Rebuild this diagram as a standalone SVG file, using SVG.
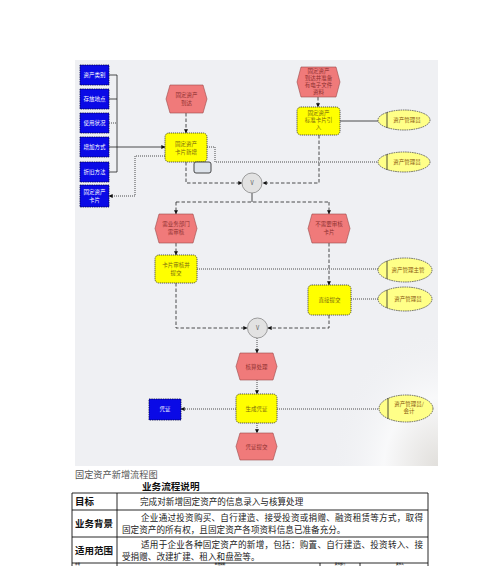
<svg xmlns="http://www.w3.org/2000/svg" width="500" height="566" viewBox="0 0 500 566">
<defs>
<marker id="ah" viewBox="0 0 6 6" refX="5.5" refY="3" markerWidth="4" markerHeight="4" orient="auto" markerUnits="userSpaceOnUse"><path d="M0,0L6,3L0,6z" fill="#111"/></marker>
<radialGradient id="sh" cx="1" cy="1" r="1"><stop offset="0" stop-color="#d8d4cc"/><stop offset="0.5" stop-color="#ffffff"/><stop offset="1" stop-color="#eff0f3" stop-opacity="0"/></radialGradient>
<style>
.blue{fill:#0a0ae6;stroke:#00004a;stroke-width:.8;stroke-dasharray:1.5 .8}
.red{fill:#f07a7a;stroke:#9a4a4a;stroke-width:.6}
.yel{fill:#ffff00;stroke:#444;stroke-width:.9;stroke-dasharray:1.2 .8}
.ell{fill:#ffff88;stroke:#444;stroke-width:.8;stroke-dasharray:1.5 .8}
.xor{fill:#e2e2e2;stroke:#888;stroke-width:.8}
.grey{fill:#dde3ea;stroke:#333;stroke-width:.9}
.c{fill:none;stroke:#222;stroke-width:.8}
.d{stroke-dasharray:3.5 2}
.o{stroke-dasharray:1 1}
text{font-family:"Noto Sans CJK SC",sans-serif}
.t{font-size:5.5px;text-anchor:middle}
.tb{fill:#fff}
.tr{fill:#8e3030}
.ty{fill:#7a6a10}
.te{fill:#8a5a10}
.tab{font-size:8.6px;fill:#222}
.hd{font-size:9.5px;font-weight:bold;fill:#111}
.hs{font-size:2.6px;font-weight:bold;fill:#111}
</style>
</defs>
<rect x="75" y="60" width="363" height="406" fill="#eff0f3"/>
<rect x="330" y="330" width="108" height="136" fill="url(#sh)" opacity="0.6"/>
<g id="connectors">
<path class="c" d="M109,75H117M109,99H117M109,147H117M109,172H117M117,75V172"/>
<path class="c o" d="M109,123H117"/>
<path class="c" d="M117,147H165" marker-end="url(#ah)"/>
<path class="c o" d="M165,156H135V196H109" marker-end="url(#ah)"/>
<path class="c d" d="M186,113V133" marker-end="url(#ah)"/>
<path class="c o" d="M207,147H215V162H378"/>
<path class="c d" d="M186,162V183H242" marker-end="url(#ah)"/>
<path class="c d" d="M319,135V183H263" marker-end="url(#ah)"/>
<path class="c d" d="M318,97V107" marker-end="url(#ah)"/>
<path class="c" d="M340,121H378"/>
<path class="c" d="M252,193V202"/>
<path class="c d" d="M176,202H329"/>
<path class="c d" d="M176,202V214" marker-end="url(#ah)"/>
<path class="c d" d="M329,202V214" marker-end="url(#ah)"/>
<path class="c d" d="M176,243V255" marker-end="url(#ah)"/>
<path class="c d" d="M329,243V285" marker-end="url(#ah)"/>
<path class="c o" d="M197,269H378"/>
<path class="c o" d="M351,299H378"/>
<path class="c d" d="M176,283V328H247" marker-end="url(#ah)"/>
<path class="c d" d="M329,315V328H268" marker-end="url(#ah)"/>
<path class="c o" d="M257,338V353" marker-end="url(#ah)"/>
<path class="c o" d="M257,380V394" marker-end="url(#ah)"/>
<path class="c o" d="M257,423V433" marker-end="url(#ah)"/>
<path class="c o" d="M236,409H181" marker-end="url(#ah)"/>
<path class="c o" d="M277,409H379"/>
</g>
<g id="n-zclb"><rect class="blue" x="80" y="65" width="29" height="20"/><text class="t tb" x="94.5" y="77">资产类别</text></g>
<g id="n-cfdd"><rect class="blue" x="80" y="89" width="29" height="20"/><text class="t tb" x="94.5" y="101">存放地点</text></g>
<g id="n-syzk"><rect class="blue" x="80" y="113" width="29" height="20"/><text class="t tb" x="94.5" y="125">使用状况</text></g>
<g id="n-zjfs"><rect class="blue" x="80" y="137" width="29" height="20"/><text class="t tb" x="94.5" y="149">增加方式</text></g>
<g id="n-zjff"><rect class="blue" x="80" y="162" width="29" height="20"/><text class="t tb" x="94.5" y="174">折旧方法</text></g>
<g id="n-kp"><rect class="blue" x="80" y="185" width="29" height="22"/><text class="t tb" x="94.5" y="194">固定资产</text><text class="t tb" x="94.5" y="202">卡片</text></g>
<g id="n-dd"><polygon class="red" points="170,85 203,85 207,99 203,113 170,113 166,99"/><text class="t tr" x="186.5" y="97">固定资产</text><text class="t tr" x="186.5" y="105">到达</text></g>
<g id="n-xz"><rect class="yel" x="165" y="133" width="42" height="29" rx="4"/><text class="t ty" x="186" y="146">固定资产</text><text class="t ty" x="186" y="154">卡片新增</text></g>
<g id="n-doc"><rect class="grey" x="194" y="162" width="17" height="11" rx="2"/></g>
<g id="n-dz"><polygon class="red" points="301,67 336,67 340,82 336,97 301,97 297,82"/><text class="t tr" x="318.5" y="73">固定资产</text><text class="t tr" x="318.5" y="80">到达并准备</text><text class="t tr" x="318.5" y="87">有电子文件</text><text class="t tr" x="318.5" y="94">资料</text></g>
<g id="n-yr"><rect class="yel" x="297" y="107" width="43" height="28" rx="4"/><text class="t ty" x="318.5" y="115">固定资产</text><text class="t ty" x="318.5" y="122">标准卡片引</text><text class="t ty" x="318.5" y="129">入</text></g>
<g id="n-e1"><ellipse class="ell" cx="404" cy="120" rx="26" ry="10"/><path class="c" d="M387,112V128"/><text class="t te" x="407" y="122">资产管理员</text></g>
<g id="n-e2"><ellipse class="ell" cx="404" cy="162" rx="26" ry="10"/><path class="c" d="M387,154V170"/><text class="t te" x="407" y="164">资产管理员</text></g>
<g id="n-x1"><circle class="xor" cx="252" cy="183" r="10"/><text class="t" x="252" y="185" fill="#555">V</text></g>
<g id="n-sh"><polygon class="red" points="159,214 193,214 197,228.5 193,243 159,243 155,228.5"/><text class="t tr" x="176" y="226">需业务部门</text><text class="t tr" x="176" y="234">需审核</text></g>
<g id="n-bsh"><polygon class="red" points="312,214 346,214 350,228.5 346,243 312,243 308,228.5"/><text class="t tr" x="329" y="226">不需要审核</text><text class="t tr" x="329" y="234">卡片</text></g>
<g id="n-tj"><rect class="yel" x="155" y="255" width="42" height="28" rx="4"/><text class="t ty" x="176" y="267">卡片审核并</text><text class="t ty" x="176" y="275">提交</text></g>
<g id="n-zj"><rect class="yel" x="308" y="285" width="43" height="30" rx="4"/><text class="t ty" x="329.5" y="302">直接提交</text></g>
<g id="n-e3"><ellipse class="ell" cx="405" cy="270" rx="27" ry="12"/><path class="c" d="M387,261V279"/><text class="t te" x="408" y="272">资产管理主管</text></g>
<g id="n-e4"><ellipse class="ell" cx="405" cy="299" rx="27" ry="12"/><path class="c" d="M387,290V308"/><text class="t te" x="408" y="301">资产管理员</text></g>
<g id="n-x2"><circle class="xor" cx="257.5" cy="328" r="10"/><text class="t" x="257.5" y="330" fill="#555">V</text></g>
<g id="n-hs"><polygon class="red" points="240,353 273,353 277,366.5 273,380 240,380 236,366.5"/><text class="t tr" x="256.5" y="368.5">核算处理</text></g>
<g id="n-sc"><rect class="yel" x="236" y="394" width="41" height="29" rx="4"/><text class="t ty" x="256.5" y="411">生成凭证</text></g>
<g id="n-pz"><rect class="blue" x="149" y="399" width="32" height="21"/><text class="t tb" x="165" y="411">凭证</text></g>
<g id="n-pztj"><polygon class="red" points="240,433 273,433 277,446.5 273,460 240,460 236,446.5"/><text class="t tr" x="256.5" y="448.5">凭证提交</text></g>
<g id="n-e5"><ellipse class="ell" cx="406" cy="408.5" rx="27" ry="13.5"/><path class="c" d="M388,398V419"/><text class="t te" x="409" y="406">资产管理员/</text><text class="t te" x="409" y="413">会计</text></g>
<text x="75" y="478" font-size="9.2" fill="#555">固定资产新增流程图</text>
<text x="142" y="490" font-size="9.6" font-weight="bold" fill="#111">业务流程说明</text>
<g id="table" fill="none" stroke="#111" stroke-width="0.9">
<path d="M72,493H428M72,510H428M72,537H428M72,563H428M72,493V566M428,493V566M117,493V566M320,563V566M360,563V566"/>
</g>
<text class="hd" x="75" y="505">目标</text>
<text class="hd" x="75" y="527">业务背景</text>
<text class="hd" x="75" y="554">适用范围</text>
<text class="tab" x="140" y="505">完成对新增固定资产的信息录入与核算处理</text>
<text class="tab" x="141" y="521" textLength="282" lengthAdjust="spacing">企业通过投资购买、自行建造、接受投资或捐赠、融资租赁等方式，取得</text>
<text class="tab" x="122" y="533">固定资产的所有权，且固定资产各项资料信息已准备充分。</text>
<text class="tab" x="141" y="548" textLength="282" lengthAdjust="spacing">适用于企业各种固定资产的新增，包括：购置、自行建造、投资转入、接</text>
<text class="tab" x="122" y="560">受捐赠、改建扩建、租入和盘盈等。</text>
<text class="hs" x="75" y="565.4">序号</text>
<text class="hs" x="220" y="565.4" text-anchor="middle">处理说明</text>
<text class="hs" x="340" y="565.4" text-anchor="middle">责任部门</text>
<text class="hs" x="400" y="565.4" text-anchor="middle">责任人</text>
</svg>
